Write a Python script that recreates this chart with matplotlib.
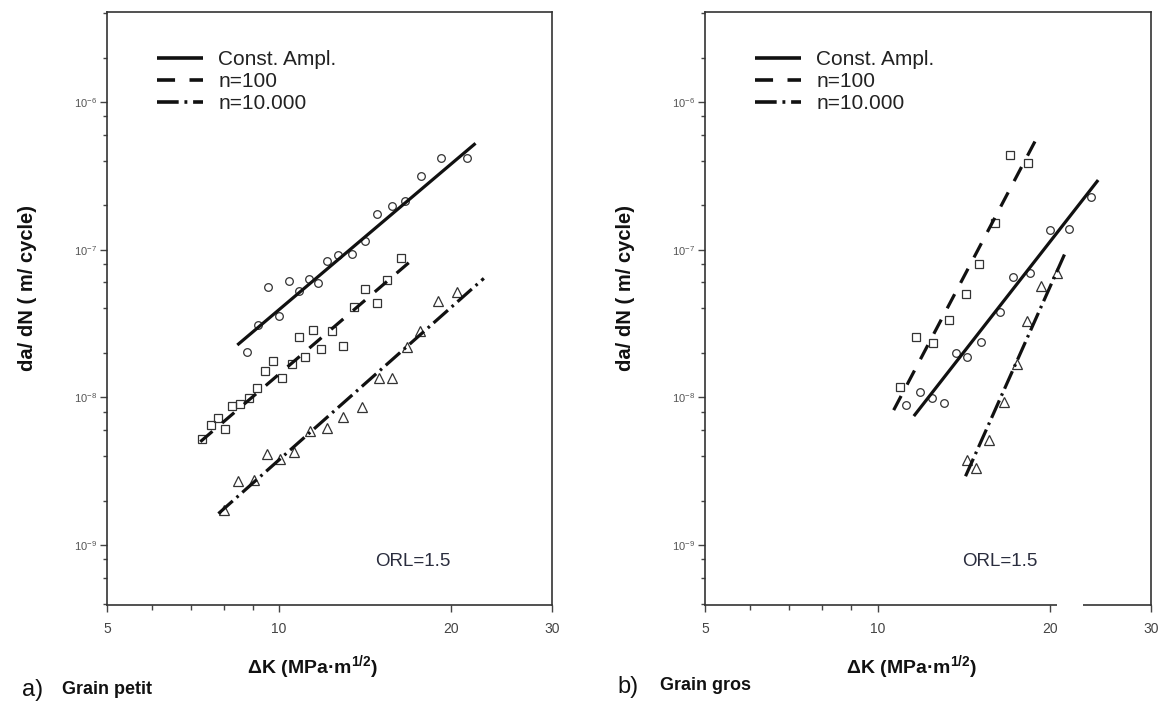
import numpy as np
import matplotlib
matplotlib.use("Agg")
import matplotlib.pyplot as plt
from matplotlib.ticker import FixedLocator, NullFormatter, LogLocator
from matplotlib.lines import Line2D
from matplotlib.patches import Rectangle

plt.rcParams['font.family'] = ['Liberation Sans', 'DejaVu Sans']
plt.rcParams['mathtext.fontset'] = 'custom'
plt.rcParams['mathtext.rm'] = 'Liberation Sans'
plt.rcParams['mathtext.bf'] = 'Liberation Sans:bold'

# ---- data ----
series_labels = ["Const. Ampl.", "n=100", "n=10.000"]
x_ticks = [5, 10, 20, 30]
x_tick_labels = ["5", "10", "20", "30"]
x_minor = [6, 7, 8, 9]
y_ticks = [1e-9, 1e-8, 1e-7, 1e-6]
y_tick_labels = [r"$10^{-9}$", r"$10^{-8}$", r"$10^{-7}$", r"$10^{-6}$"]

# a) Grain petit
a_ca_dk = [8.80, 9.17, 9.56, 9.98, 10.42, 10.82, 11.28, 11.69, 12.14, 12.68,
           13.39, 14.15, 14.82, 15.76, 16.63, 17.71, 19.2, 21.27]
a_ca_rate = [2.03e-8, 3.08e-8, 5.6e-8, 3.55e-8, 6.12e-8, 5.27e-8, 6.35e-8, 5.91e-8,
             8.41e-8, 9.19e-8, 9.29e-8, 1.144e-7, 1.734e-7, 1.975e-7, 2.145e-7,
             3.15e-7, 4.16e-7, 4.16e-7]
a_n100_dk = [7.34, 7.60, 7.83, 8.04, 8.27, 8.53, 8.84, 9.14, 9.46, 9.75, 10.11, 10.51,
             11.11, 10.84, 11.46, 11.85, 12.37, 12.94, 13.50, 14.11, 14.80, 15.45, 16.34]
a_n100_rate = [5.19e-9, 6.48e-9, 7.2e-9, 6.06e-9, 8.72e-9, 9.0e-9, 9.93e-9, 1.16e-8,
               1.51e-8, 1.76e-8, 1.36e-8, 1.68e-8, 1.88e-8, 2.57e-8, 2.85e-8, 2.11e-8,
               2.82e-8, 2.22e-8, 4.1e-8, 5.38e-8, 4.37e-8, 6.22e-8, 8.81e-8]
a_n10k_dk = [8.02, 8.49, 9.05, 9.52, 10.05, 10.63, 11.31, 12.13, 12.94, 13.98, 14.94,
             15.76, 16.74, 17.66, 18.94, 20.43]
a_n10k_rate = [1.72e-9, 2.71e-9, 2.75e-9, 4.1e-9, 3.8e-9, 4.27e-9, 5.9e-9, 6.21e-9,
               7.31e-9, 8.63e-9, 1.36e-8, 1.36e-8, 2.2e-8, 2.81e-8, 4.5e-8, 5.19e-8]
a_fit_dk = [[8.45, 22.05], [7.28, 17.2], [7.83, 22.8]]
a_fit_rate = [[2.26e-8, 5.25e-7], [5.0e-9, 8.73e-8], [1.63e-9, 6.39e-8]]

# b) Grain gros
b_ca_dk = [11.19, 11.88, 12.45, 13.05, 13.68, 14.34, 15.17, 16.35, 17.26, 18.45,
           19.97, 21.58, 23.56]
b_ca_rate = [8.86e-9, 1.09e-8, 9.83e-9, 9.18e-9, 1.98e-8, 1.88e-8, 2.38e-8, 3.8e-8,
             6.55e-8, 6.97e-8, 1.358e-7, 1.39e-7, 2.26e-7]
b_n100_dk = [10.93, 11.69, 12.51, 13.31, 14.24, 15.03, 16.0, 17.02, 18.3]
b_n100_rate = [1.17e-8, 2.57e-8, 2.34e-8, 3.33e-8, 5.0e-8, 7.98e-8, 1.52e-7, 4.38e-7, 3.84e-7]
b_n10k_dk = [14.3, 14.83, 15.64, 16.61, 17.54, 18.25, 19.32, 20.6]
b_n10k_rate = [3.75e-9, 3.33e-9, 5.13e-9, 9.32e-9, 1.67e-8, 3.3e-8, 5.67e-8, 6.97e-8]
b_fit_dk = [[11.57, 24.26], [10.67, 18.95], [14.24, 21.36]]
b_fit_rate = [[7.46e-9, 2.96e-7], [8.19e-9, 5.68e-7], [2.92e-9, 9.94e-8]]

# ---- styles ----
dash_styles = [(0, ()), (0, (5, 4)), (0, (6, 1.6, 0.8, 1.6))]
markers = ['o', 's', '^']
msizes = [5.5, 5.5, 6.5]
ink = '#111111'

fig = plt.figure(figsize=(11.64, 7.06), dpi=100)
ax_a = fig.add_axes([107 / 1164, 1 - 605 / 706, 445 / 1164, 593 / 706])
ax_b = fig.add_axes([705 / 1164, 1 - 605 / 706, 446 / 1164, 593 / 706])


def draw_panel(ax, pts, fits_x, fits_y, orl_x):
    for i, (dk, rate) in enumerate(pts):
        ax.plot(dk, rate, linestyle='none', marker=markers[i], ms=msizes[i],
                mfc='none', mec='#333333', mew=0.9)
    for i in range(3):
        ax.plot(fits_x[i], fits_y[i], color=ink, lw=2.3, linestyle=dash_styles[i],
                solid_capstyle='butt', dash_capstyle='butt')
    ax.set_xscale('log')
    ax.set_yscale('log')
    ax.set_xlim(5, 30)
    ax.set_ylim(3.92e-10, 4.07e-6)
    ax.xaxis.set_major_locator(FixedLocator(x_ticks))
    ax.set_xticklabels(x_tick_labels)
    ax.xaxis.set_minor_locator(FixedLocator(x_minor))
    ax.xaxis.set_minor_formatter(NullFormatter())
    ax.yaxis.set_major_locator(FixedLocator(y_ticks))
    ax.set_yticklabels(y_tick_labels)
    ax.yaxis.set_minor_locator(LogLocator(base=10, subs=(2, 4, 6, 8)))
    ax.yaxis.set_minor_formatter(NullFormatter())
    ax.tick_params(axis='x', which='major', length=5, width=1, color='#444444',
                   labelsize=10, labelcolor='#444444', pad=7)
    ax.tick_params(axis='x', which='minor', length=3.5, width=1, color='#444444')
    ax.tick_params(axis='y', which='major', length=5, width=1, color='#444444',
                   labelsize=8, labelcolor='#555555', pad=2)
    ax.tick_params(axis='y', which='minor', length=3, width=1, color='#444444')
    for s in ax.spines.values():
        s.set_color('#333333')
        s.set_linewidth(1.2)
    ax.set_ylabel('da/ dN ( m/ cycle)', fontsize=14.5, fontweight='bold', color=ink)
    ax.yaxis.set_label_coords(-0.158, 0.535)
    ax.set_xlabel(r'ΔK (MPa·m$^{\mathbf{1/2}}$)', fontsize=14, fontweight='bold', color=ink)
    ax.xaxis.set_label_coords(0.463, -0.082)
    handles = [Line2D([], [], color=ink, lw=2.6, linestyle=dash_styles[i]) for i in range(3)]
    ax.legend(handles, series_labels, loc='upper left', bbox_to_anchor=(0.112, 0.936),
              frameon=False, fontsize=15, handlelength=2.2, handletextpad=0.75,
              labelspacing=0.15, borderpad=0, borderaxespad=0, labelcolor='#222222')
    ax.text(orl_x, 0.074, 'ORL=1.5', transform=ax.transAxes, fontsize=13.5,
            color='#2a2d3e', va='center', ha='center')


draw_panel(ax_a, [(a_ca_dk, a_ca_rate), (a_n100_dk, a_n100_rate), (a_n10k_dk, a_n10k_rate)],
           a_fit_dk, a_fit_rate, 0.688)
draw_panel(ax_b, [(b_ca_dk, b_ca_rate), (b_n100_dk, b_n100_rate), (b_n10k_dk, b_n10k_rate)],
           b_fit_dk, b_fit_rate, 0.661)

# white smudge over the bottom axis of panel b, as in the scan
fig.patches.append(Rectangle((1057 / 1164, 1 - 612 / 706), 26 / 1164, 14 / 706,
                             transform=fig.transFigure, facecolor='white',
                             edgecolor='none', zorder=10))

fig.text(33 / 1164, 1 - 690 / 706, 'a)', fontsize=17, color=ink, ha='center', va='center')
fig.text(62 / 1164, 1 - 690 / 706, 'Grain petit', fontsize=13, fontweight='bold',
         color=ink, ha='left', va='center')
fig.text(628 / 1164, 1 - 687 / 706, 'b)', fontsize=17, color=ink, ha='center', va='center')
fig.text(660 / 1164, 1 - 685 / 706, 'Grain gros', fontsize=13, fontweight='bold',
         color=ink, ha='left', va='center')

fig.savefig('out.png', dpi=100)
